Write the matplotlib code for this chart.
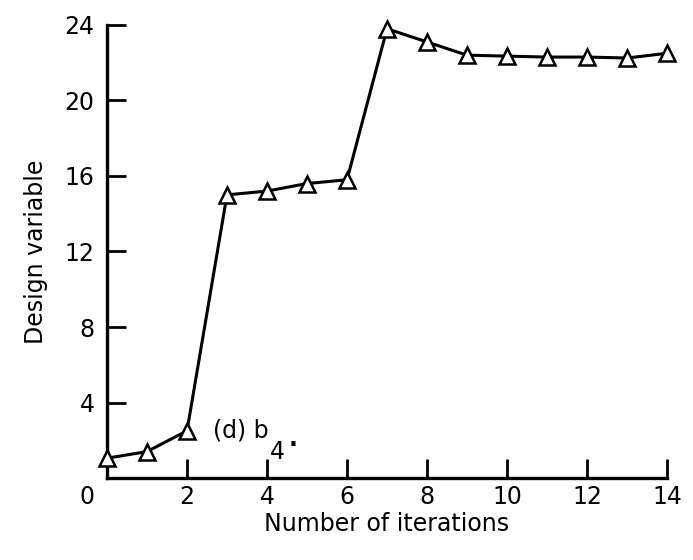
import matplotlib
matplotlib.use("Agg")
import matplotlib.pyplot as plt

# ---------------- DATA ----------------

iterations = [0, 1, 2, 3, 4, 5, 6, 7, 8, 9, 10, 11, 12, 13, 14]
design_variable = [1.05, 1.4, 2.5, 15.0, 15.2, 15.6, 15.8, 23.8, 23.1,
                   22.4, 22.35, 22.3, 22.3, 22.25, 22.5]

x_ticks = [0, 2, 4, 6, 8, 10, 12, 14]
y_ticks = [4, 8, 12, 16, 20, 24]

plt.rcParams["font.family"] = ["DejaVu Sans"]

# ---------------- PLOT ----------------

fig = plt.figure(figsize=(6.93, 5.6), dpi=100)
ax = fig.add_axes([0.1544, 0.1464, 0.8081, 0.8090])

ax.plot(iterations, design_variable, color="black", linewidth=2.2,
        marker="^", markersize=11, markerfacecolor="white",
        markeredgecolor="black", markeredgewidth=1.8, clip_on=False,
        zorder=3)

ax.set_xlim(0, 14)
ax.set_ylim(0, 24)

for side in ["top", "right"]:
    ax.spines[side].set_visible(False)
for side in ["left", "bottom"]:
    ax.spines[side].set_linewidth(2.4)

ax.set_xticks(x_ticks)
ax.set_yticks(y_ticks)
ax.tick_params(direction="in", length=14, width=2, labelsize=17, pad=5)
ax.tick_params(axis="y", pad=9)

# origin label sits left of the corner, drawn on its own
ax.set_xticklabels([""] + [str(v) for v in x_ticks[1:]])
ax.text(-0.5, -1.0, "0", fontsize=17, ha="center", va="center",
        clip_on=False)

ax.set_xlabel("Number of iterations", fontsize=17, labelpad=2)
ax.set_ylabel("Design variable", fontsize=17, labelpad=12)

# ---------------- LABEL ----------------

ax.text(2.65, 2.5, "(d) b", fontsize=17, va="center", ha="left")
ax.text(4.08, 1.4, "4", fontsize=17, va="center", ha="left")
ax.text(4.55, 2.05, ".", fontsize=17, va="center", ha="left",
        fontweight="bold")

plt.savefig("out.png", dpi=100)
plt.close()
